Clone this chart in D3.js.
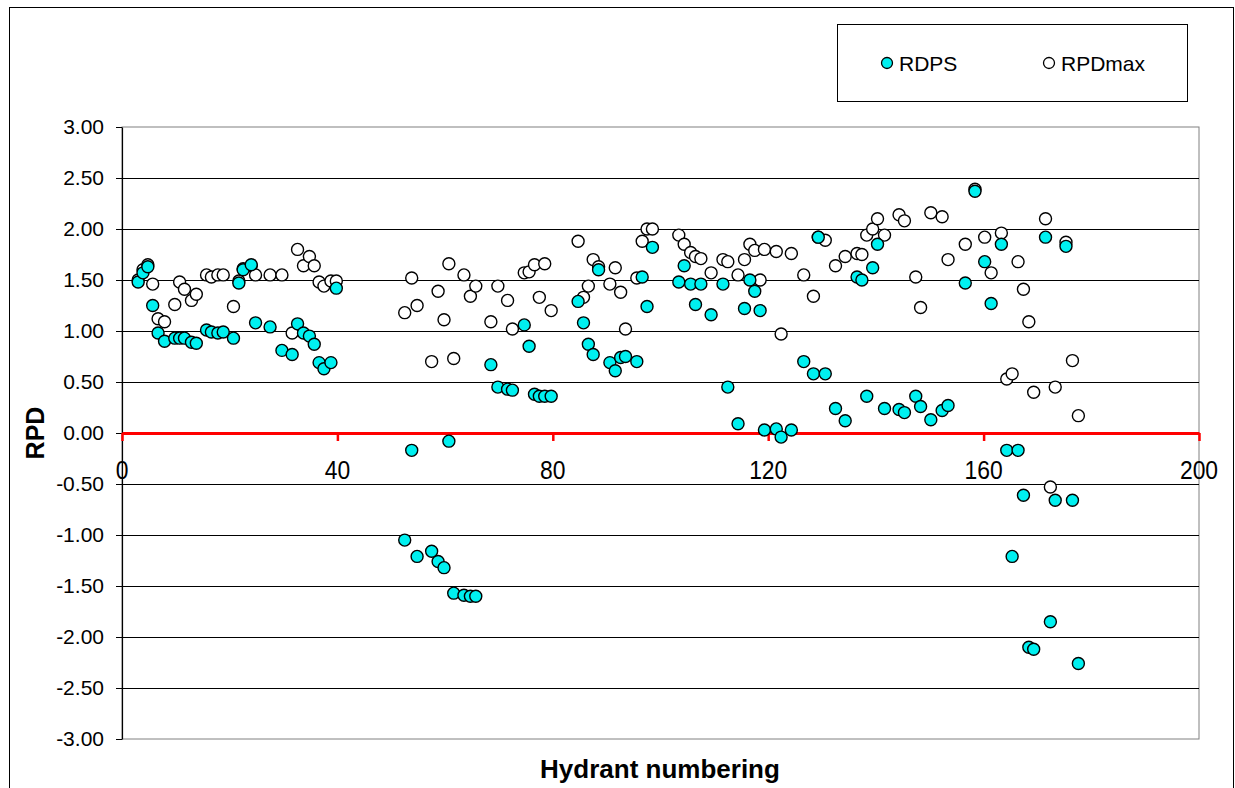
<!DOCTYPE html>
<html><head><meta charset="utf-8">
<script src="https://cdn.jsdelivr.net/npm/d3@7/dist/d3.min.js"></script>
<style>
body{margin:0;background:#fff}
svg{display:block}
text{font-family:"Liberation Sans",Arial,Helvetica,sans-serif;fill:#000}
</style>
</head><body>
<svg id="chart" width="1235" height="788"></svg>
<script>
// ---- data ----
const hydrants = [
  3.0,3.9,4.8,5.7,6.7,7.9,9.8,10.7,11.6,12.9,13.8,15.7,16.6,17.8,18.8,20.7,21.7,22.5,24.0,24.8,27.5,29.7,31.6,32.6,33.7,34.8,35.7,36.6,37.5,38.8,39.8,
  52.5,53.8,54.8,57.5,58.7,59.8,60.7,61.6,63.5,64.7,65.7,68.5,69.8,71.6,72.5,74.7,75.6,76.6,77.5,78.5,79.7,84.7,85.7,86.6,87.5,88.5,90.6,91.6,92.6,93.5,95.6,96.6,97.5,98.5,
  103.4,104.4,105.6,106.5,107.5,109.4,111.6,112.5,114.4,115.6,116.6,117.5,118.5,119.3,121.5,122.4,124.3,126.6,128.4,129.3,130.6,132.5,134.3,136.5,137.4,138.3,139.4,140.3,141.6,144.3,145.3,147.4,148.3,150.2,152.3,153.4,
  156.6,158.4,160.2,161.4,163.3,164.3,165.3,166.4,167.4,168.4,169.3,171.5,172.4,173.3,175.3,176.5,177.6
];
const rdps = [
  1.48,1.57,1.63,1.25,0.98,0.90,0.93,0.93,0.93,0.89,0.88,1.01,0.99,0.98,0.99,0.93,1.47,1.60,1.65,1.08,1.04,0.81,0.77,1.07,0.98,0.95,0.87,0.69,0.63,0.69,1.42,
  -1.05,-0.17,-1.21,-1.16,-1.26,-1.32,-0.08,-1.57,-1.59,-1.60,-1.60,0.67,0.45,0.43,0.42,1.06,0.85,0.38,0.36,0.36,0.36,1.29,1.08,0.87,0.77,1.60,0.69,0.61,0.74,0.75,0.70,1.53,1.24,1.82,
  1.48,1.64,1.46,1.26,1.46,1.16,1.46,0.45,0.09,1.22,1.50,1.39,1.20,0.03,0.04,-0.04,0.03,0.70,0.58,1.92,0.58,0.24,0.12,1.53,1.50,0.36,1.62,1.85,0.24,0.23,0.20,0.36,0.26,0.13,0.22,0.27,
  1.47,2.37,1.68,1.27,1.85,-0.17,-1.21,-0.17,-0.61,-2.10,-2.12,1.92,-1.85,-0.66,1.83,-0.66,-2.26
];
const rpdmax = [
  1.50,1.60,1.65,1.46,1.12,1.09,1.26,1.48,1.41,1.30,1.36,1.55,1.53,1.55,1.55,1.24,1.49,1.61,1.64,1.55,1.55,1.55,0.98,1.80,1.64,1.73,1.64,1.48,1.44,1.49,1.49,
  1.18,1.52,1.25,0.70,1.39,1.11,1.66,0.73,1.55,1.34,1.44,1.09,1.44,1.30,1.02,1.57,1.58,1.65,1.33,1.66,1.20,1.88,1.33,1.44,1.70,1.63,1.46,1.62,1.38,1.02,1.52,1.88,2.00,2.00,
  1.94,1.85,1.77,1.73,1.71,1.57,1.70,1.68,1.55,1.70,1.85,1.79,1.50,1.80,1.78,0.97,1.76,1.55,1.34,1.92,1.89,1.64,1.73,1.76,1.75,1.94,2.00,2.10,1.94,2.14,2.08,1.53,1.23,2.16,2.12,1.70,
  1.85,2.39,1.92,1.57,1.96,0.53,0.58,1.68,1.41,1.09,0.40,2.10,-0.53,0.45,1.87,0.71,0.17
];
const xTicks = [0, 40, 80, 120, 160, 200];
const yTicks = [-3, -2.5, -2, -1.5, -1, -0.5, 0, 0.5, 1, 1.5, 2, 2.5, 3];
const seriesNames = ["RDPS", "RPDmax"];
const xTitle = "Hydrant numbering";
const yTitle = "RPD";

// ---- layout ----
const svg = d3.select("#chart");
const L = 122, R = 1199, T = 127, B = 739;
const x = d3.scaleLinear().domain([0, 200]).range([L, R]);
const y = d3.scaleLinear().domain([-3, 3]).range([B, T]);

// outer frame
svg.append("rect").attr("x", 9.5).attr("y", 7.5).attr("width", 1224).attr("height", 800)
  .attr("fill", "#fff").attr("stroke", "#000").attr("stroke-width", 1);

// plot area border
svg.append("rect").attr("x", L).attr("y", T).attr("width", R - L).attr("height", B - T)
  .attr("fill", "#fff").attr("stroke", "#808080").attr("stroke-width", 1);

// gridlines
svg.append("g").selectAll("line").data(yTicks.filter(d => d > -3 && d < 3 && d !== 0)).join("line")
  .attr("x1", L).attr("x2", R)
  .attr("y1", d => Math.round(y(d)) + 0.5).attr("y2", d => Math.round(y(d)) + 0.5)
  .attr("stroke", "#000").attr("stroke-width", 1);

// y axis
const yAxis = svg.append("g").attr("transform", `translate(${L},0)`)
  .call(d3.axisLeft(y).tickValues(yTicks).tickFormat(d => d.toFixed(2)).tickSize(6).tickSizeOuter(0).tickPadding(12));
yAxis.select(".domain").attr("stroke", "#000").attr("stroke-width", 1.2);
yAxis.selectAll(".tick line").attr("stroke", "#000");
yAxis.selectAll("text").attr("font-size", 21).attr("font-family", '"Liberation Sans",Arial,sans-serif').attr("fill", "#000");

// x axis (red zero line)
const xAxis = svg.append("g").attr("transform", `translate(0,${y(0)})`)
  .call(d3.axisBottom(x).tickValues(xTicks).tickSize(8).tickSizeOuter(0).tickFormat(""));
xAxis.select(".domain").attr("stroke", "#ff0000").attr("stroke-width", 3);
xAxis.selectAll(".tick line").attr("stroke", "#ff0000").attr("stroke-width", 2.5);

// x tick labels
svg.append("g").selectAll("text").data(xTicks).join("text")
  .attr("transform", d => `translate(${x(d)},${y(0) + 46}) scale(0.88,1)`)
  .attr("text-anchor", "middle").attr("font-size", 26).text(d => d);

// points: RPDmax (open) first, RDPS (cyan) on top
const pts = hydrants.map((h, i) => ({h, a: rdps[i], b: rpdmax[i]}));
svg.append("g").selectAll("circle").data(pts).join("circle")
  .attr("cx", d => x(d.h)).attr("cy", d => y(d.b)).attr("r", 6)
  .attr("fill", "#fff").attr("stroke", "#000").attr("stroke-width", 1.4);
svg.append("g").selectAll("circle").data(pts).join("circle")
  .attr("cx", d => x(d.h)).attr("cy", d => y(d.a)).attr("r", 6)
  .attr("fill", "#00f0f0").attr("stroke", "#000").attr("stroke-width", 1.4);

// axis titles
svg.append("text").attr("x", 660).attr("y", 778).attr("text-anchor", "middle")
  .attr("font-size", 26).attr("font-weight", "bold").text(xTitle);
svg.append("text").attr("transform", `translate(44,${y(0)}) rotate(-90)`).attr("text-anchor", "middle")
  .attr("font-size", 25).attr("font-weight", "bold").text(yTitle);

// legend
const lg = svg.append("g");
lg.append("rect").attr("x", 837.5).attr("y", 24.5).attr("width", 350).attr("height", 77)
  .attr("fill", "#fff").attr("stroke", "#000").attr("stroke-width", 1);
const lgItems = [{name: seriesNames[0], cx: 887, fill: "#00f0f0"}, {name: seriesNames[1], cx: 1049, fill: "#fff"}];
lgItems.forEach(it => {
  lg.append("circle").attr("cx", it.cx).attr("cy", 63).attr("r", 5.5)
    .attr("fill", it.fill).attr("stroke", "#000").attr("stroke-width", 1.3);
  lg.append("text").attr("x", it.cx + 12).attr("y", 70.5).attr("font-size", 21).text(it.name);
});
</script>
</body></html>
